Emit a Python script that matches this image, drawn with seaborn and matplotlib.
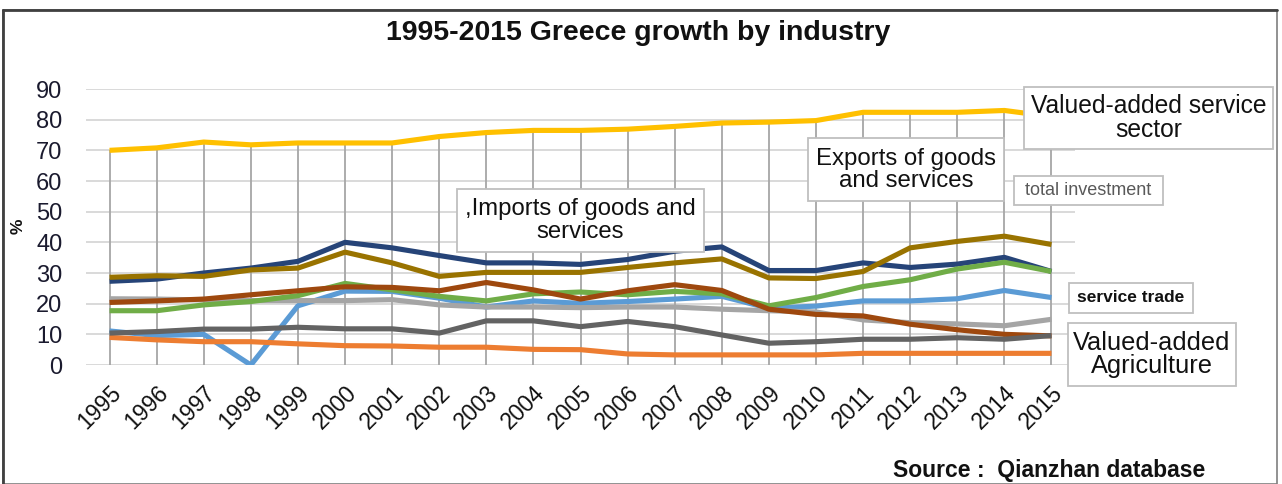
import matplotlib
matplotlib.use("Agg")
import matplotlib.pyplot as plt
import matplotlib.patches as mpatches
import numpy as np
import pandas as pd
import seaborn as sns

# ---- data (% of GDP), Greece 1995-2015 ----
years = list(range(1995, 2016))
services_value_added = [70.0, 70.8, 72.7, 71.8, 72.4, 72.4, 72.4, 74.5, 75.8, 76.5, 76.5,
                        76.9, 77.8, 78.9, 79.2, 79.7, 82.4, 82.4, 82.4, 83.0, 81.0]
imports_goods_services = [27.3, 28.0, 30.0, 31.6, 33.8, 40.0, 38.2, 35.7, 33.3, 33.3, 32.8,
                          34.4, 37.1, 38.5, 30.8, 30.8, 33.3, 31.8, 32.9, 35.1, 30.5]
merchandise_trade = [28.6, 29.1, 28.9, 31.0, 31.6, 36.8, 33.3, 28.9, 30.2, 30.2, 30.2,
                     31.8, 33.3, 34.6, 28.4, 28.2, 30.5, 38.2, 40.3, 42.0, 39.3]
total_investment = [20.4, 20.9, 21.5, 22.9, 24.2, 25.5, 25.3, 24.2, 26.9, 24.5, 21.5,
                    24.2, 26.2, 24.3, 18.2, 16.5, 16.0, 13.3, 11.5, 10.0, 9.5]
exports_goods_services = [17.7, 17.7, 19.6, 20.7, 22.6, 26.6, 24.5, 22.4, 20.9, 23.2, 23.8,
                          22.9, 24.0, 23.2, 19.3, 22.0, 25.6, 27.8, 31.3, 33.5, 30.5]
service_trade = [11.1, 9.6, 10.0, 0.0, 19.3, 24.1, 24.0, 21.8, 18.9, 20.9, 20.1,
                 20.7, 21.5, 22.4, 18.5, 19.2, 20.9, 20.9, 21.6, 24.3, 22.0]
industry_value_added = [21.6, 21.5, 21.2, 21.0, 21.0, 21.0, 21.3, 19.6, 18.9, 18.9, 18.7,
                        18.9, 18.9, 18.2, 17.7, 17.3, 14.7, 13.8, 13.4, 12.8, 14.9]
manufacturing_value_added = [10.4, 10.9, 11.7, 11.7, 12.3, 11.8, 11.8, 10.4, 14.4, 14.4, 12.5,
                             14.2, 12.5, 9.8, 7.1, 7.6, 8.4, 8.4, 8.9, 8.4, 9.6]
agriculture_value_added = [9.0, 8.2, 7.6, 7.6, 6.9, 6.3, 6.2, 5.8, 5.8, 5.1, 5.0,
                           3.6, 3.3, 3.3, 3.3, 3.3, 3.8, 3.8, 3.8, 3.8, 3.8]

y_ticks = [0, 10, 20, 30, 40, 50, 60, 70, 80, 90]

series = {
    "Service trade": service_trade,
    "Agriculture, value added": agriculture_value_added,
    "Industry, value added": industry_value_added,
    "Services, value added": services_value_added,
    "Imports of goods and services": imports_goods_services,
    "Exports of goods and services": exports_goods_services,
    "Merchandise trade": merchandise_trade,
    "Gross capital formation": total_investment,
    "Manufacturing, value added": manufacturing_value_added,
}
palette = {
    "Service trade": "#5B9BD5",
    "Agriculture, value added": "#ED7D31",
    "Industry, value added": "#A5A5A5",
    "Services, value added": "#FFC000",
    "Imports of goods and services": "#264478",
    "Exports of goods and services": "#70AD47",
    "Merchandise trade": "#997300",
    "Gross capital formation": "#9E480E",
    "Manufacturing, value added": "#636363",
}

df = pd.DataFrame(
    [(y, name, v) for name, vals in series.items() for y, v in zip(years, vals)],
    columns=["year", "indicator", "value"],
)

sns.set_theme(style="white")
plt.rcParams["font.family"] = ["Liberation Sans", "DejaVu Sans"]

W, H = 1282, 484
fig = plt.figure(figsize=(W / 100, H / 100), dpi=100)


def fx(px):
    return px / W


def fy(py):
    return 1 - py / H


ax = fig.add_axes([fx(86), fy(365), fx(1075) - fx(86), fy(89) - fy(365)])

# horizontal gridlines
for t in y_ticks:
    ax.axhline(t, color="#D9D9D9", lw=1.4, zorder=0)

# drop lines from the top series down to the axis
ax.vlines(years, 0, services_value_added, color="#A6A6A6", lw=1.3, zorder=1)

sns.lineplot(data=df, x="year", y="value", hue="indicator", hue_order=list(series.keys()),
             palette=palette, lw=3.7, legend=False, ax=ax, zorder=3)
for ln in ax.lines:
    ln.set_solid_capstyle("butt")
    ln.set_solid_joinstyle("round")

ax.set_xlim(1994.5, 2015.5)
ax.set_ylim(0, 90)
ax.set_yticks(y_ticks)
ax.set_yticklabels([str(t) for t in y_ticks], fontsize=17, color="#1a1a2e")
ax.set_xticks(years)
ax.set_xticklabels([str(y) for y in years], fontsize=16.5, rotation=45,
                   ha="right", va="top", rotation_mode="anchor", color="#111111")
ax.tick_params(axis="x", length=0, pad=12)
ax.tick_params(axis="y", length=0, pad=17)
for s in ax.spines.values():
    s.set_visible(False)
ax.set_xlabel("")
ax.set_ylabel("")
ax.patch.set_alpha(0)

# title, axis label, source
fig.text(fx(638), fy(33), "1995-2015 Greece growth by industry", ha="center", va="center",
         fontsize=20.5, fontweight="bold", color="#111111")
fig.text(fx(18), fy(226), "%", rotation=90, ha="center", va="center",
         fontsize=12.5, fontweight="bold", color="#111111")
fig.text(fx(1205), fy(470), "Source :  Qianzhan database", ha="right", va="center",
         fontsize=16.5, fontweight="bold", color="#111111")

# outer frame
fig.add_artist(mpatches.Rectangle((fx(3), fy(484)), fx(1277) - fx(3), fy(10) - fy(484),
                                  transform=fig.transFigure, fill=False,
                                  edgecolor="#7F7F7F", lw=1.2))
fig.add_artist(plt.Line2D([fx(3), fx(1277)], [fy(10), fy(10)], transform=fig.transFigure,
                          color="#404040", lw=2.0))
fig.add_artist(plt.Line2D([fx(3), fx(3)], [fy(10), fy(484)], transform=fig.transFigure,
                          color="#404040", lw=2.0))


def label_box(x0, y0, x1, y1, text, size, color="#111111", weight="normal"):
    fig.add_artist(mpatches.Rectangle((fx(x0), fy(y1)), fx(x1) - fx(x0), fy(y0) - fy(y1),
                                      transform=fig.transFigure, facecolor="white",
                                      edgecolor="#BFBFBF", lw=1.3, zorder=5))
    fig.text(fx((x0 + x1) / 2), fy((y0 + y1) / 2), text, ha="center", va="center",
             fontsize=size, color=color, fontweight=weight, linespacing=1.0, zorder=6)


label_box(1024, 87, 1273, 149, "Valued-added service\nsector", 17.7)
label_box(808, 138, 1004, 201, "Exports of goods\nand services", 17.3)
label_box(457, 189, 704, 252, ",Imports of goods and\nservices", 17.2)
label_box(1014, 176, 1163, 205, "total investment", 13, color="#595959")
label_box(1069, 283, 1193, 313, "service trade", 12.5, weight="bold")
label_box(1068, 323, 1236, 386, "Valued-added\nAgriculture", 18.3)

fig.savefig("out.png", dpi=100)
